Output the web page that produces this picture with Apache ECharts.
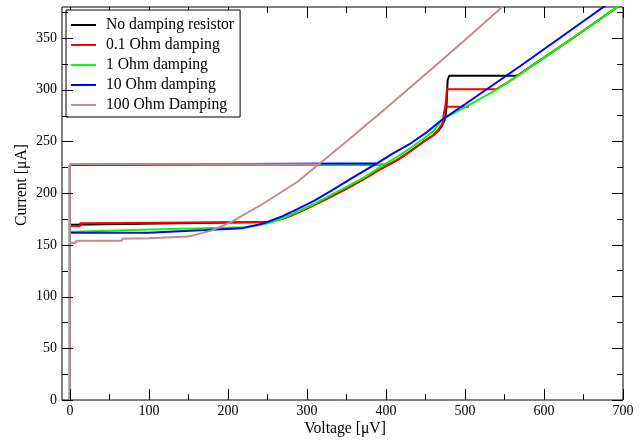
<!DOCTYPE html>
<html><head><meta charset="utf-8">
<script src="https://cdn.jsdelivr.net/npm/echarts@6/dist/echarts.min.js"></script>
<style>html,body{margin:0;padding:0;background:#fff}#c{width:643px;height:440px}</style>
</head><body><div id="c"></div>
<script>
const seriesNames = ['No damping resistor', '0.1 Ohm damping', '1 Ohm damping', '10 Ohm damping', '100 Ohm Damping'];
const seriesColors = ['#000000', '#ff0000', '#00ff00', '#0000ff', '#bc8f8f'];

// No damping resistor (voltage µV, current µA), traced as one path
const blackV = [403, 0, 0, 0, 250, 270, 288, 310, 330, 350, 372, 390, 414, 430, 448, 460, 466, 470, 474, 476, 477, 478, 480, 566, 600, 650, 700];
const blackI = [227.5, 227.5, 0, 169.5, 172, 175.5, 181, 189, 196.5, 204.5, 213.5, 222, 232, 240, 250, 256, 260, 264, 270, 277, 290, 309, 313.5, 313.5, 331, 357, 384];

// 0.1 Ohm damping
const redV = [403, 0, 0, 0, 13, 13, 250, 270, 288, 310, 330, 350, 372, 390, 414, 430, 448, 460, 466, 472, 473, 475, 505, 475, 476, 477, 540, 566, 600, 650, 700];
const redI = [227.5, 227.5, 0, 168.2, 168.2, 170.8, 172, 175.5, 181, 189, 196.5, 204.5, 213.5, 222, 232, 240, 250, 256, 261, 268, 276, 283.5, 283.5, 283.5, 290, 300.5, 300.5, 313, 331, 357, 384];

// 1 Ohm damping
const greenV = [395, 0, 0, 0, 8, 8, 78, 78, 220, 240, 254, 270, 288, 310, 330, 350, 372, 390, 414, 430, 448, 460, 471, 490, 507, 540, 566, 600, 650, 700];
const greenI = [227.5, 227.5, 0, 162.7, 162.7, 164.4, 164.4, 165.6, 167, 169, 171.5, 176, 182, 190, 198, 206, 215, 224, 235, 243, 253, 260, 271, 279, 286, 300, 313, 331, 357, 384];

// 10 Ohm damping
const blueV = [389, 0, 0, 0, 99, 99, 218, 245, 270, 288, 310, 330, 360, 389, 410, 431, 450, 471, 500, 540, 570, 620, 677, 700];
const blueI = [228.8, 227.2, 0, 161.8, 161.8, 163.7, 166, 170.8, 178, 184.5, 193, 202, 216, 229, 239, 248, 258, 271, 286, 307, 323, 350, 381, 393];

// 100 Ohm Damping
const brownV = [315, 0, 0, 0, 8, 8, 66, 66, 100, 150, 180, 205, 245, 288, 315, 350, 400, 450, 500, 550];
const brownI = [228, 228, 0, 152, 152, 154, 154, 156, 156.5, 158, 164, 172.4, 190, 211, 228, 250, 282, 315, 348, 382];

const xMajorTicks = [0, 100, 200, 300, 400, 500, 600, 700];
const xMinorTicks = [50, 150, 250, 350, 450, 550, 650];
const yMajorTicks = [0, 50, 100, 150, 200, 250, 300, 350];
const yMinorTicks = [25, 75, 125, 175, 225, 275, 325, 375];

const xTitle = 'Voltage [μV]';
const yTitle = 'Current [μA]';

const FONT = '"Liberation Serif", "DejaVu Serif", serif';
const allV = [blackV, redV, greenV, blueV, brownV];
const allI = [blackI, redI, greenI, blueI, brownI];
const X_MIN = -10, X_MAX = 700, Y_MIN = 0, Y_MAX = 380;
const MAJOR_LEN = 11, MINOR_LEN = 6;

const G = { left: 62, right: 20, top: 7, bottom: 40 };
const tickStyle = { color: '#000', width: 1 };
const labelStyle = { color: '#000', fontFamily: FONT, fontSize: 14 };

function xLabelAxis() {
  return { gridIndex: 0, type: 'value', min: X_MIN, max: X_MAX, position: 'bottom',
    axisLine: { show: false, onZero: false }, splitLine: { show: false }, axisTick: { show: false },
    axisLabel: Object.assign({ show: true, customValues: xMajorTicks, margin: 4 }, labelStyle) };
}
function yLabelAxis() {
  return { gridIndex: 0, type: 'value', min: Y_MIN, max: Y_MAX, position: 'left',
    axisLine: { show: false, onZero: false }, splitLine: { show: false }, axisTick: { show: false },
    axisLabel: Object.assign({ show: true, customValues: yMajorTicks, margin: 5 }, labelStyle) };
}
function xTickAxis(grid, ticks, len) {
  return { gridIndex: grid, type: 'value', min: X_MIN, max: X_MAX, position: 'top',
    axisLine: { show: false, onZero: false }, splitLine: { show: false }, axisLabel: { show: false },
    axisTick: { show: true, inside: true, length: len, customValues: ticks, lineStyle: tickStyle } };
}
function yTickAxis(grid, ticks, len) {
  return { gridIndex: grid, type: 'value', min: Y_MIN, max: Y_MAX, position: 'right',
    axisLine: { show: false, onZero: false }, splitLine: { show: false }, axisLabel: { show: false },
    axisTick: { show: true, inside: true, length: len, customValues: ticks, lineStyle: tickStyle } };
}

// bottom / left inward ticks, placed through the chart's own scales
const bottomTicks = xMajorTicks.map(v => [v, MAJOR_LEN]).concat(xMinorTicks.map(v => [v, MINOR_LEN]));
const leftTicks = yMajorTicks.map(v => [v, MAJOR_LEN]).concat(yMinorTicks.map(v => [v, MINOR_LEN]));

function tickSeries(data, dim) {
  return {
    type: 'custom', xAxisIndex: 0, yAxisIndex: 0, silent: true, clip: false, z: 50, zlevel: 1,
    encode: { x: -1, y: -1 },
    data: data,
    renderItem: function (params, api) {
      const val = api.value(0), len = api.value(1);
      if (dim === 'x') {
        const p = api.coord([val, Y_MIN]);
        return { type: 'rect', shape: { x: Math.round(p[0]), y: p[1] - len, width: 1, height: len }, style: { fill: '#000' } };
      }
      const p = api.coord([X_MIN, val]);
      return { type: 'rect', shape: { x: p[0], y: Math.round(p[1]), width: len, height: 1 }, style: { fill: '#000' } };
    }
  };
}

const chart = echarts.init(document.getElementById('c'), null, { renderer: 'canvas' });
chart.setOption({
  animation: false,
  backgroundColor: '#fff',
  grid: [
    Object.assign({ show: true, borderColor: '#000', borderWidth: 1, backgroundColor: 'transparent' }, G),
    Object.assign({ show: false }, G)
  ],
  xAxis: [xLabelAxis(), xTickAxis(0, xMajorTicks, MAJOR_LEN), xTickAxis(1, xMinorTicks, MINOR_LEN)],
  yAxis: [yLabelAxis(), yTickAxis(0, yMajorTicks, MAJOR_LEN), yTickAxis(1, yMinorTicks, MINOR_LEN)],
  legend: {
    orient: 'vertical', left: 66, top: 10,
    backgroundColor: '#fff', borderColor: '#000', borderWidth: 1,
    padding: [7, 6, 4, 5],
    itemWidth: 25, itemHeight: 2, itemGap: 4, icon: 'rect',
    selectedMode: false,
    textStyle: { fontFamily: FONT, fontSize: 15.7, lineHeight: 16, color: '#000', padding: [0, 0, 0, 5] },
    data: seriesNames
  },
  graphic: [
    { type: 'text', x: 345, y: 429, style: { text: xTitle, font: '15.7px ' + FONT, fill: '#000', textAlign: 'center', textVerticalAlign: 'middle' } },
    { type: 'text', x: 22, y: 185, rotation: Math.PI / 2, style: { text: yTitle, font: '15.7px ' + FONT, fill: '#000', textAlign: 'center', textVerticalAlign: 'middle' } }
  ],
  series: seriesNames.map((n, k) => ({
    name: n, type: 'line', xAxisIndex: 0, yAxisIndex: 0,
    symbol: 'none', showSymbol: false, smooth: false,
    lineStyle: { color: seriesColors[k], width: 2 },
    itemStyle: { color: seriesColors[k] },
    data: allV[k].map((v, i) => [v, allI[k][i]])
  })).concat([tickSeries(bottomTicks, 'x'), tickSeries(leftTicks, 'y')])
});
</script></body></html>
